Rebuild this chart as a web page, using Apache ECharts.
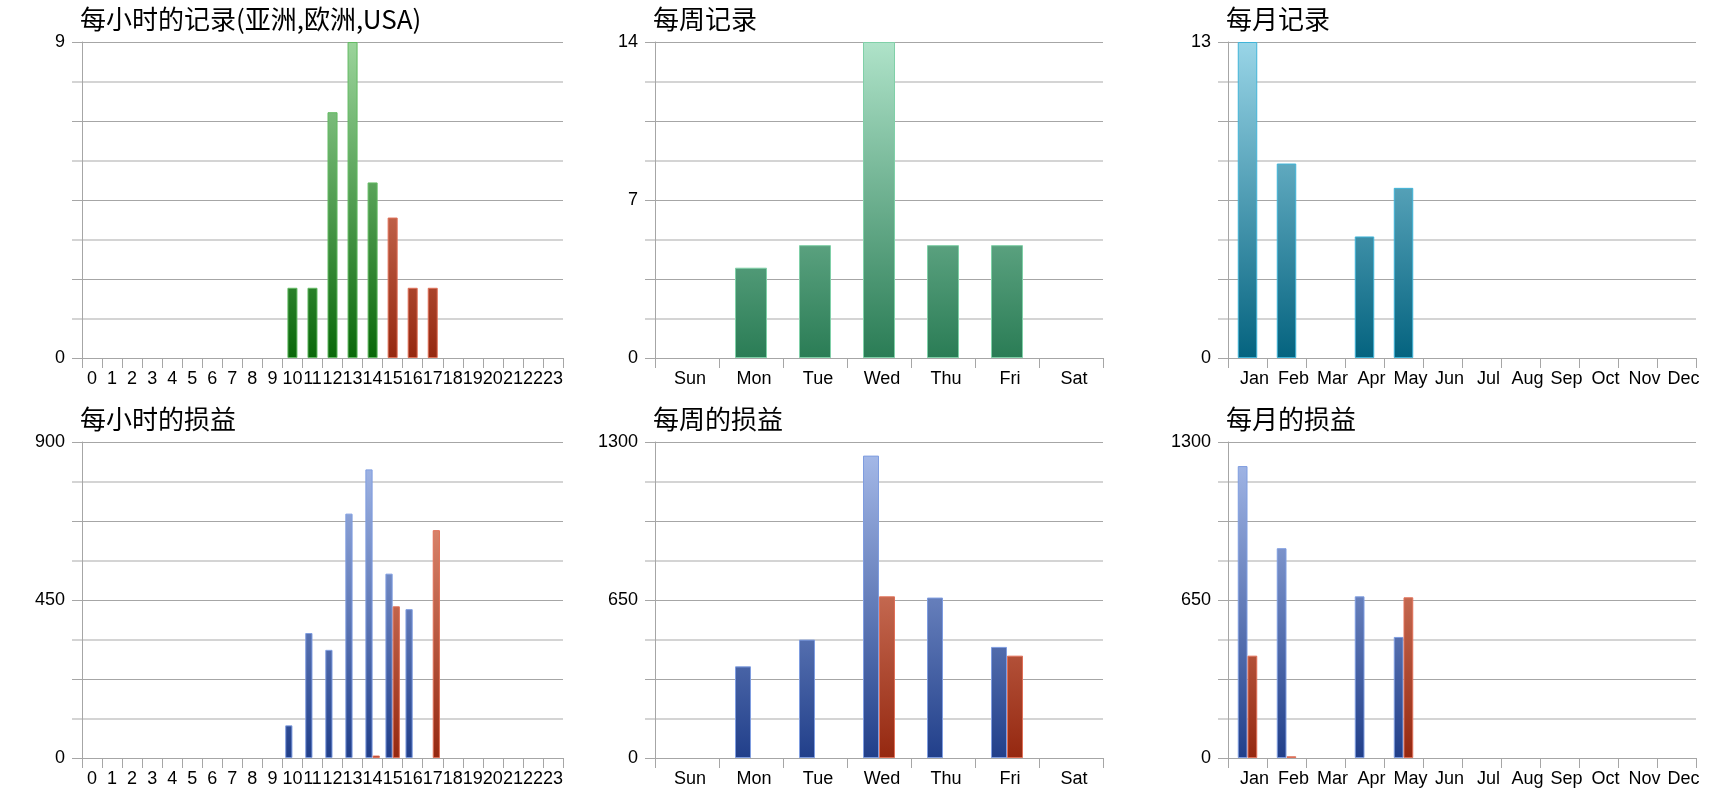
<!DOCTYPE html>
<html>

<head>
  <meta charset="utf-8">
  <script src="https://cdn.jsdelivr.net/npm/echarts@6/dist/echarts.min.js"></script>
</head>

<style>
  html, body {
    margin: 0;
    padding: 0;
    width: 100%;
    height: 100%;
    background: #fff;
  }
</style>

<body>
  <div id="main" style="width: 1720px;height:800px;"></div>

  <script>
    // categories
    var hours = ['0', '1', '2', '3', '4', '5', '6', '7', '8', '9', '10', '11',
      '12', '13', '14', '15', '16', '17', '18', '19', '20', '21', '22', '23'];
    var weekdays = ['Sun', 'Mon', 'Tue', 'Wed', 'Thu', 'Fri', 'Sat'];
    var months = ['Jan', 'Feb', 'Mar', 'Apr', 'May', 'Jun', 'Jul', 'Aug', 'Sep', 'Oct', 'Nov', 'Dec'];

    // 每小时的记录
    var hourCountAsiaEu = [0, 0, 0, 0, 0, 0, 0, 0, 0, 0, 2, 2, 7, 9, 5, 0, 0, 0, 0, 0, 0, 0, 0, 0];
    var hourCountUsa = [0, 0, 0, 0, 0, 0, 0, 0, 0, 0, 0, 0, 0, 0, 0, 4, 2, 2, 0, 0, 0, 0, 0, 0];
    // 每小时的损益
    var hourProfit = [0, 0, 0, 0, 0, 0, 0, 0, 0, 0, 93, 356, 308, 696, 822, 525, 424, 0, 0, 0, 0, 0, 0, 0];
    var hourLoss = [0, 0, 0, 0, 0, 0, 0, 0, 0, 0, 0, 0, 0, 0, 7, 432, 0, 649, 0, 0, 0, 0, 0, 0];
    // 每周
    var weekCount = [0, 4, 5, 14, 5, 5, 0];
    var weekProfit = [0, 377, 487, 1244, 660, 457, 0];
    var weekLoss = [0, 0, 0, 665, 0, 421, 0];
    // 每月
    var monthCount = [13, 8, 0, 5, 7, 0, 0, 0, 0, 0, 0, 0];
    var monthProfit = [1201, 863, 0, 665, 498, 0, 0, 0, 0, 0, 0, 0];
    var monthLoss = [421, 7, 0, 0, 661, 0, 0, 0, 0, 0, 0, 0];

    // axis maxima and the tick labels that are shown
    var hourCountMax = 9, hourCountTicks = [0, 9];
    var hourMoneyMax = 900, hourMoneyTicks = [0, 450, 900];
    var weekCountMax = 14, weekCountTicks = [0, 7, 14];
    var weekMoneyMax = 1300, weekMoneyTicks = [0, 650, 1300];
    var monthCountMax = 13, monthCountTicks = [0, 13];
    var monthMoneyMax = 1300, monthMoneyTicks = [0, 650, 1300];

    var titles = ['每小时的记录(亚洲,欧洲,USA)', '每周记录', '每月记录', '每小时的损益', '每周的损益', '每月的损益'];

    // grid boxes (px)
    var colLeft = [82, 655, 1228];
    var colWidth = [481, 448, 468];
    var rowTop = [42, 442];
    var plotHeight = 316;

    var myChart = echarts.init(document.getElementById('main'));

    var gridColor = '#a6a6a6';
    var minorColor = '#d4d4d4';

    function grad(g, top, bottom) {
      var y0 = rowTop[Math.floor(g / 3)];
      return new echarts.graphic.LinearGradient(0, y0, 0, y0 + plotHeight, [
        { offset: 0, color: top },
        { offset: 1, color: bottom }
      ], true);
    }

    var grids = [], xAxes = [], yAxes = [], titleList = [];
    // [categories, max, shown labels, label shift]
    var axisInfo = [
      [hours, hourCountMax, hourCountTicks, 0],
      [weekdays, weekCountMax, weekCountTicks, 6],
      [months, monthCountMax, monthCountTicks, 14],
      [hours, hourMoneyMax, hourMoneyTicks, 0],
      [weekdays, weekMoneyMax, weekMoneyTicks, 6],
      [months, monthMoneyMax, monthMoneyTicks, 14]
    ];

    for (var i = 0; i < 6; i++) {
      var c = i % 3, r = Math.floor(i / 3);
      grids.push({
        left: colLeft[c], top: rowTop[r], width: colWidth[c], height: plotHeight,
        containLabel: false, outerBoundsMode: 'none'
      });
      titleList.push({
        text: titles[i], left: colLeft[c] - 2, top: rowTop[r] - 36, padding: 0,
        textStyle: { fontFamily: 'Noto Sans CJK SC', fontSize: 26, fontWeight: 'normal', color: '#000' }
      });
      (function (ticks) {
        xAxes.push({
          type: 'category', gridIndex: i, data: axisInfo[i][0],
          axisLine: { lineStyle: { color: gridColor } },
          axisTick: { show: true, length: 10, lineStyle: { color: gridColor } },
          axisLabel: {
            interval: 0, hideOverlap: false, margin: 12, color: '#000',
            fontFamily: 'Liberation Sans', fontSize: 18, padding: [0, 0, 0, axisInfo[i][3]]
          },
          splitLine: { show: false }
        });
        yAxes.push({
          type: 'value', gridIndex: i, min: 0, max: axisInfo[i][1], interval: axisInfo[i][1] / 4,
          axisLine: { show: true, lineStyle: { color: gridColor } },
          axisTick: { show: true, length: 10, lineStyle: { color: gridColor } },
          minorTick: { show: true, splitNumber: 2, length: 10, lineStyle: { color: minorColor, width: 2 } },
          splitLine: { show: true, lineStyle: { color: gridColor, width: 1 } },
          minorSplitLine: { show: true, lineStyle: { color: minorColor, width: 2 } },
          axisLabel: {
            margin: 17, color: '#000', fontFamily: 'Liberation Sans', fontSize: 18,
            formatter: function (v) { return ticks.indexOf(v) >= 0 ? String(v) : ''; }
          }
        });
      })(axisInfo[i][2]);
    }

    // zero values draw no bar (no border line on the baseline)
    function noZero(arr) {
      return arr.map(function (v) { return v === 0 ? '-' : v; });
    }

    function bar(g, name, data, top, bottom, border, extra) {
      var s = {
        type: 'bar', name: name, xAxisIndex: g, yAxisIndex: g, data: noZero(data),
        barGap: 0, barCategoryGap: '50%', silent: true,
        itemStyle: { color: grad(g, top, bottom), borderColor: border, borderWidth: 1 }
      };
      for (var k in extra) s[k] = extra[k];
      return s;
    }

    var greenTop = '#9bd49b', greenBottom = '#0a680a', greenBorder = '#62ba62';
    var redTop = '#f0a58c', redBottom = '#952810', redBorder = '#e07058';
    var blueTop = '#a9bdeb', blueBottom = '#213f8a', blueBorder = '#7f9de0';
    var tealTop = '#afe3c9', tealBottom = '#2a7c55', tealBorder = '#80d0a8';
    var cyanTop = '#99d5e7', cyanBottom = '#04637f', cyanBorder = '#40b4d8';

    option = {
      animation: false,
      title: titleList,
      grid: grids,
      xAxis: xAxes,
      yAxis: yAxes,
      series: [
        bar(0, '亚洲,欧洲', hourCountAsiaEu, greenTop, greenBottom, greenBorder, { stack: 'h' }),
        bar(0, 'USA', hourCountUsa, redTop, redBottom, redBorder, { stack: 'h' }),
        bar(1, '记录', weekCount, tealTop, tealBottom, tealBorder, {}),
        bar(2, '记录', monthCount, cyanTop, cyanBottom, cyanBorder, {}),
        bar(3, '盈利', hourProfit, blueTop, blueBottom, blueBorder, { barCategoryGap: '28%' }),
        bar(3, '亏损', hourLoss, redTop, redBottom, redBorder, { barCategoryGap: '28%' }),
        bar(4, '盈利', weekProfit, blueTop, blueBottom, blueBorder, {}),
        bar(4, '亏损', weekLoss, redTop, redBottom, redBorder, {}),
        bar(5, '盈利', monthProfit, blueTop, blueBottom, blueBorder, {}),
        bar(5, '亏损', monthLoss, redTop, redBottom, redBorder, {})
      ]
    };

    myChart.setOption(option);
  </script>
</body>

</html>
